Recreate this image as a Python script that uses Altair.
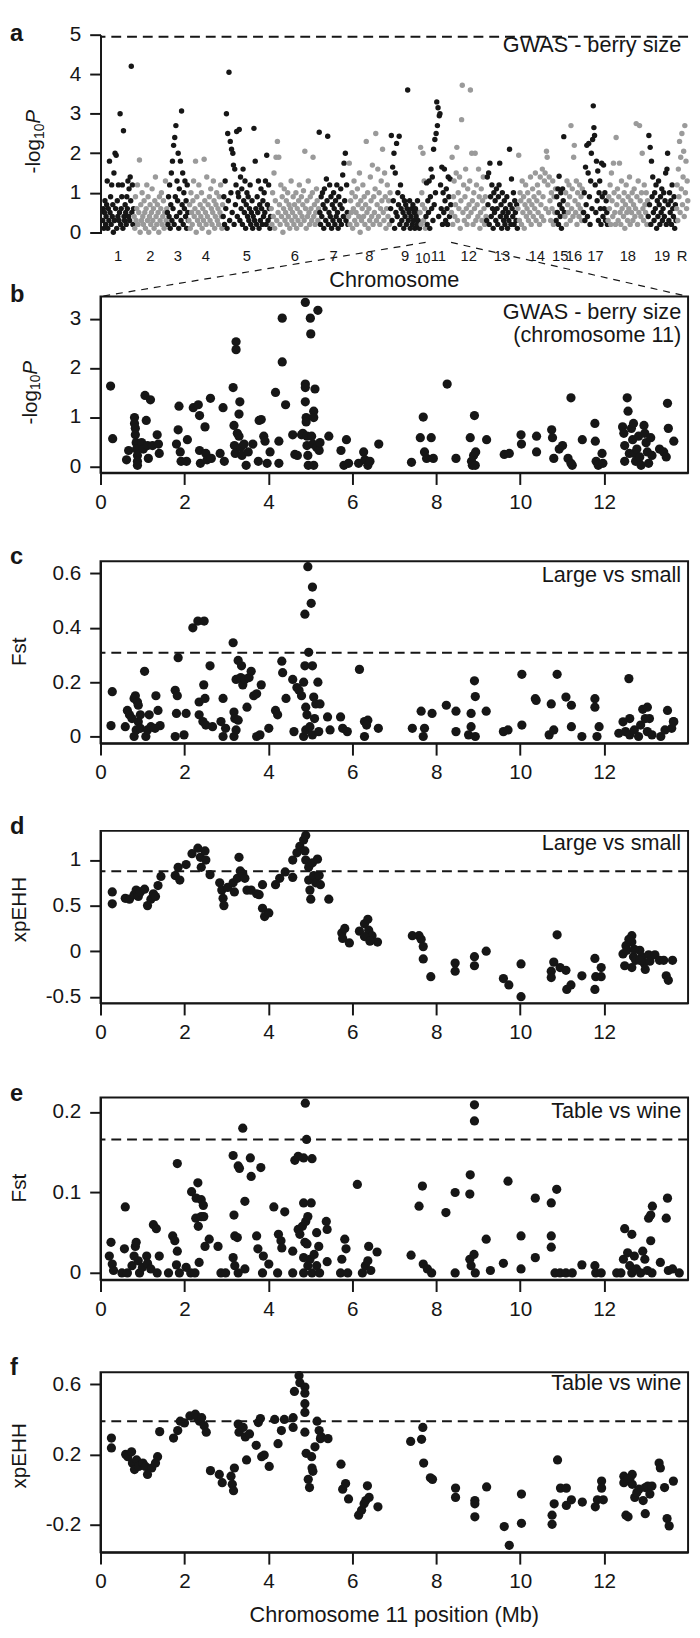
import altair as alt
import pandas as pd

FONT = "Liberation Sans"
INK = "#161616"
GREY = "#9a9a9a"
W = 597

# ---------------- panel a : genome-wide GWAS ----------------
chrom_labels = ["1", "2", "3", "4", "5", "6", "7", "8", "9", "10",
                "11", "12", "13", "14", "15", "16", "17", "18", "19", "R"]
chrom_sizes = [32, 34, 22, 35, 49, 49, 30, 43, 30, 6, 26, 36, 32, 39, 9, 19, 25, 41, 29, 12]

chr1 = [0.3,0.6,0.1,0.5,0.8,0.2,0.4,0.7,1.3,0.1,0.6,0.3,1.8,0.5,0.9,0.2,1.2,0.4,0.7,0.0,1.5,0.3,2.0,0.6,1.95,0.1,0.8,0.4,1.2,0.3,0.5,3.0,0.2,0.6,0.9,1.2,0.1,2.57,0.4,0.3,0.7,0.5,0.2,0.9,0.6,1.3,0.4,1.1,0.3,1.4,0.8,4.2,0.5,1.2,0.2,0.6]
chr2 = [0.4,0.1,0.9,0.3,0.6,1.2,0.2,0.5,1.83,0.0,0.7,0.3,1.0,0.4,0.2,0.8,0.5,0.1,0.6,1.2,0.3,0.9,0.0,0.4,0.7,0.2,0.5,1.1,0.3,0.6,0.1,0.8,1.4,0.4,0.2,0.7,0.5,0.0,0.9,0.3,0.6,1.0,0.2,0.4,0.8,0.1,0.5,1.3,0.3,0.6]
chr3 = [0.5,0.2,0.9,0.4,1.2,0.1,0.7,1.5,0.3,1.8,0.6,2.2,0.2,2.4,0.9,2.7,0.4,1.3,0.8,2.0,0.1,1.1,0.5,1.8,0.3,3.07,0.7,1.5,0.2,1.0,0.6,1.3,0.4,0.8,0.1,1.2,0.5,0.3]
chr4 = [0.3,0.7,0.1,1.0,0.5,0.2,0.8,1.3,0.4,0.6,1.8,0.0,0.9,0.3,0.5,1.2,0.2,0.7,0.4,1.0,0.1,0.6,0.3,1.85,0.8,0.5,0.2,1.4,0.4,0.7,0.0,0.9,0.3,1.1,0.6,0.2,0.5,1.3,0.8,0.1,0.4,0.7,1.0,0.3,0.6,0.2,0.9,0.5,1.2,0.4,0.1,0.7]
chr5 = [0.4,0.9,0.2,1.3,0.6,3.0,0.1,2.5,0.8,4.05,0.3,2.3,1.0,2.1,0.5,2.0,1.7,0.2,1.6,0.7,1.2,2.55,0.4,1.0,0.9,2.6,0.3,1.4,0.6,1.1,0.2,1.6,0.8,0.5,1.3,0.1,0.7,1.0,0.4,0.9,0.3,0.6,1.2,0.2,0.5,0.8,0.1,0.4,2.63,0.3,1.8,0.6,0.2,0.9,0.5,1.3,0.1,0.7,0.3,1.1,0.6,0.2,0.8,0.4,1.0,0.5,1.3,0.2,1.95,0.7,0.3,1.2,0.6,0.1,0.4]
chr6 = [0.6,0.2,1.0,0.4,1.5,0.1,0.8,1.9,0.3,2.3,0.5,1.9,0.7,0.2,1.2,0.4,0.9,0.0,0.6,1.1,0.3,0.5,0.8,0.2,1.0,0.4,0.7,0.1,0.6,1.3,0.3,0.5,0.9,0.2,0.7,0.4,1.0,0.1,0.6,0.3,0.8,1.2,0.5,0.2,0.9,0.4,0.7,1.05,0.3,2.05,0.6,0.1,0.8,0.4,1.3,0.5,0.2,0.9,0.6,0.3,1.0,1.9,0.4,0.7,0.2,0.5,1.1,0.8,0.3,0.6]
chr7 = [2.53,0.5,0.2,0.9,0.4,1.0,0.7,0.1,1.1,0.6,0.3,1.35,0.8,2.43,0.2,0.5,1.2,0.4,0.9,0.1,0.7,0.3,1.0,0.6,0.2,0.8,0.4,1.2,0.5,0.1,0.9,0.3,0.7,1.1,0.2,0.6,1.45,0.4,1.75,0.8,2.0,0.3,1.2,0.5,0.2]
chr8 = [0.4,1.75,0.2,0.8,0.5,1.0,0.1,0.6,1.3,0.3,0.9,0.5,0.2,1.1,0.7,0.4,1.5,0.0,0.8,0.3,0.6,1.2,0.4,0.9,0.2,0.7,2.3,0.5,1.0,0.1,0.6,0.3,1.4,0.8,0.4,1.7,0.2,0.9,0.5,1.1,2.5,0.3,0.7,1.6,0.4,1.0,0.2,0.6,1.3,0.8,2.1,0.5,0.3,1.5,0.9,0.1,0.6,1.2,0.4,0.8,0.2,1.0]
chr9 = [0.6,2.45,0.3,1.65,0.8,2.0,0.1,1.5,0.5,2.25,0.4,1.0,0.7,2.43,0.2,1.2,0.6,0.3,0.9,0.5,0.1,0.8,0.4,0.7,0.2,0.6,3.6,0.3,0.5,0.8,0.1,0.4,0.6,0.2,0.7,0.3,0.5,0.1,0.6,0.4,0.2,0.8,0.3,0.5,0.1]
chr10 = [0.5,2.15,0.2,1.0,0.7,2.0,0.3,1.3,0.6,0.1]
chr11 = [0.4,1.25,0.2,0.8,0.5,1.3,0.1,0.9,1.6,0.6,1.4,0.3,2.1,0.7,2.35,1.0,2.5,3.3,2.7,3.15,0.4,2.95,3.0,1.2,0.6,1.65,0.2,1.0,0.5,1.6,0.8,0.3,1.1,0.6,0.2,1.4,0.9,0.4,1.35,0.7]
chr12 = [0.5,1.9,0.2,0.9,1.3,0.4,0.7,1.5,2.15,0.3,1.0,0.6,1.4,0.1,0.8,2.85,3.72,0.5,1.2,0.3,0.9,1.6,0.6,0.2,1.1,0.4,0.7,1.3,3.6,0.5,2.0,0.8,0.2,1.0,0.6,2.0,0.3,1.2,0.7,0.4,1.6,0.9,0.1,0.5,1.1,0.3,0.8,1.4,0.6,0.2,0.9,0.4]
chr13 = [0.3,1.4,0.7,1.5,0.2,1.75,0.9,0.4,1.2,0.6,0.1,1.0,0.5,0.8,0.3,1.1,0.6,0.2,0.9,1.2,1.75,0.4,0.7,0.1,1.0,0.5,0.3,0.8,0.2,0.6,0.4,0.9,0.1,0.5,0.3,2.1,0.7,0.2,1.35,0.6,0.4,1.0,0.2,0.8,0.5,0.3,0.7,0.1]
chr14 = [0.6,1.95,0.3,1.0,0.8,0.2,1.3,0.5,0.9,0.1,0.7,1.2,0.4,0.6,1.0,0.3,0.8,0.5,1.4,0.2,0.7,1.1,0.4,0.9,0.6,1.5,0.3,0.8,1.2,0.5,1.0,0.2,1.4,0.7,0.4,1.6,0.9,0.3,1.3,1.5,0.6,2.05,1.9,1.2,0.5,1.4,0.8,0.3,1.0,0.6,1.3,0.2,0.9,0.5,1.1]
chr15 = [0.3,0.9,0.5,1.1,0.2,1.42,0.7,0.4,1.0,0.1,0.6,1.1,0.8,2.42,0.5]
chr16 = [0.4,1.0,0.2,1.3,0.7,0.5,1.2,0.9,0.3,2.7,0.6,1.1,0.4,1.9,2.2,0.8,0.5,1.3,0.2,1.0,0.7,0.4,1.2,0.6,0.9,0.3,1.1,0.5]
chr17 = [0.5,1.0,0.3,1.65,0.7,2.2,0.4,1.5,2.25,0.9,0.2,1.3,2.0,0.6,2.35,3.2,2.65,2.45,1.2,0.5,1.8,0.8,1.55,0.3,1.0,1.3,0.6,0.2,1.75,0.9,0.4,1.7,0.6,1.0,0.3,0.8,0.5,0.2]
chr18 = [0.3,0.9,0.6,1.2,0.2,1.5,0.8,0.4,1.75,1.0,0.5,0.2,2.4,0.7,1.1,0.3,0.9,1.75,0.5,0.2,1.3,0.6,0.8,0.4,1.0,0.1,0.7,1.2,0.5,0.3,0.9,0.6,1.4,0.2,0.8,0.5,1.0,0.3,0.7,1.1,0.4,0.6,2.75,0.9,0.2,1.3,0.5,2.7,0.8,0.4,1.0,2.0,0.6,0.3,1.2,0.7,0.5,1.0,0.2,0.8]
chr19 = [0.4,2.45,0.7,2.15,0.2,1.8,0.9,1.4,0.5,0.3,1.0,0.6,1.2,0.1,0.8,0.4,1.3,0.7,0.2,0.9,0.5,1.1,0.3,0.6,1.0,0.4,0.8,1.5,0.2,1.6,2.0,0.7,0.3,1.0,0.5,0.8,0.2,1.2,0.6,0.4,0.9,0.1,0.7,0.3]
chrR = [0.6,1.2,0.3,1.6,0.9,2.3,0.5,1.9,1.1,2.5,0.7,1.4,2.05,0.4,2.7,1.0,1.8,0.6,1.3,0.8]
chrom_values = [chr1, chr2, chr3, chr4, chr5, chr6, chr7, chr8, chr9, chr10,
                chr11, chr12, chr13, chr14, chr15, chr16, chr17, chr18, chr19, chrR]
a_threshold = 4.95

# ---------------- panels b-f : chromosome 11 (Mb, value) ----------------
b_points = [
(0.24,1.63),(0.29,0.56),(0.62,0.13),(0.67,0.32),(0.81,0.99),(0.81,0.87),(0.83,0.77),(0.83,0.64),(0.85,0.48),(0.86,0.35),(0.88,0.22),(0.88,0.10),(0.88,0.02),(0.98,0.48),(1.02,0.35),(1.06,1.44),(1.09,0.93),(1.12,0.42),(1.14,0.16),(1.19,1.35),(1.24,0.42),(1.35,0.64),(1.38,0.45),(1.40,0.26),
(1.81,0.45),(1.85,0.74),(1.87,1.22),(1.90,0.29),(1.92,0.10),(2.05,0.10),(2.07,0.54),(2.21,1.19),(2.33,1.25),(2.36,1.03),(2.36,0.32),(2.38,0.06),(2.49,0.80),(2.51,0.26),(2.54,0.13),(2.62,1.38),(2.64,0.16),(2.85,0.26),(2.92,1.19),(2.95,0.10),
(3.16,1.60),(3.18,0.83),(3.19,0.42),(3.21,0.26),(3.23,2.53),(3.23,2.37),(3.26,0.67),(3.30,0.61),(3.30,1.06),(3.32,1.31),(3.34,0.38),(3.37,0.22),(3.42,0.45),(3.47,0.02),(3.52,0.29),(3.63,0.45),(3.76,0.10),(3.78,0.93),(3.83,0.95),(3.89,0.61),(3.92,0.51),(3.97,0.06),
(4.04,0.29),(4.17,1.50),(4.25,0.51),(4.25,0.06),(4.33,3.01),(4.33,2.12),(4.41,1.25),(4.58,0.64),(4.63,0.24),(4.69,0.22),(4.79,0.64),(4.82,0.67),(4.88,3.33),(4.88,1.67),(4.88,1.60),(4.88,1.31),(4.90,0.99),(4.90,0.90),(4.92,0.61),(4.92,0.42),(4.94,0.22),(4.95,0.02),
(5.00,3.01),(5.01,2.69),(5.03,0.61),(5.06,0.45),(5.08,1.12),(5.08,0.99),(5.08,0.02),(5.11,1.57),(5.15,0.38),(5.18,3.17),(5.21,0.32),(5.23,0.48),(5.44,0.61),(5.73,0.32),(5.80,0.02),(5.86,0.54),(5.91,0.06),
(6.15,0.06),(6.27,0.29),(6.30,0.13),(6.37,0.02),(6.42,0.10),(6.63,0.45),(7.41,0.08),(7.62,0.58),(7.69,1.00),(7.72,0.29),(7.77,0.16),(7.88,0.58),(7.93,0.16),
(8.26,1.67),(8.47,0.16),(8.81,0.58),(8.84,0.10),(8.86,0.02),(8.89,0.22),(8.91,1.03),(8.93,0.02),(8.94,0.29),(9.20,0.54),(9.62,0.24),(9.74,0.26),
(10.02,0.64),(10.03,0.45),(10.39,0.61),(10.39,0.29),(10.75,0.74),(10.77,0.58),(10.80,0.16),(10.93,0.35),(11.01,0.42),(11.14,0.16),(11.21,1.39),(11.21,0.06),(11.24,0.02),(11.48,0.54),(11.78,0.87),(11.79,0.51),(11.81,0.10),(11.86,0.02),(11.95,0.26),(11.97,0.06),
(12.44,0.80),(12.47,0.67),(12.49,0.42),(12.49,0.10),(12.55,1.39),(12.57,1.12),(12.60,0.26),(12.65,0.77),(12.68,0.54),(12.70,0.87),(12.72,0.26),(12.75,0.10),(12.78,0.35),(12.82,0.61),(12.85,0.19),(12.88,0.02),(12.95,0.83),(12.97,0.67),(13.00,0.48),(13.03,0.29),(13.06,0.06),(13.11,0.58),(13.14,0.22),(13.32,0.35),(13.42,0.29),(13.48,0.19),(13.51,1.28),(13.53,0.77),(13.66,0.51)]

c_points = [
(0.28,0.165),(0.25,0.04),(0.64,0.096),(0.69,0.08),(0.80,0.14),(0.83,0.15),(0.88,0.127),(0.90,0.115),(0.95,0.08),(1.05,0.24),(1.16,0.08),(1.32,0.15),(1.37,0.096),(1.42,0.04),(1.78,0.17),(1.83,0.15),(1.85,0.29),(1.81,0.085),(2.04,0.085),(2.20,0.40),(2.32,0.425),(2.47,0.425),
(2.35,0.127),(2.46,0.19),(2.49,0.14),(2.61,0.26),(2.35,0.08),(2.44,0.055),(2.87,0.055),(2.92,0.14),(3.16,0.345),(3.18,0.09),(3.20,0.066),(3.23,0.21),(3.28,0.28),(3.34,0.217),(3.36,0.26),(3.39,0.19),(3.44,0.21),(3.49,0.108),(3.54,0.217),(3.59,0.24),(3.65,0.15),(3.72,0.157),(3.83,0.19),
(4.17,0.096),(4.22,0.08),(4.32,0.277),(4.34,0.235),(4.42,0.14),(4.58,0.21),(4.68,0.18),(4.73,0.17),(4.79,0.15),(4.84,0.20),(4.87,0.45),(4.94,0.625),(5.02,0.49),(5.05,0.55),(4.96,0.31),(4.87,0.26),(4.89,0.108),(4.92,0.08),(5.05,0.26),(5.08,0.145),(5.13,0.12),(5.18,0.20),(5.23,0.12),(5.10,0.066),(5.41,0.072),(5.72,0.072),
(6.17,0.247),(6.29,0.055),(6.37,0.06),(7.64,0.093),(7.90,0.085),(8.24,0.115),(8.47,0.093),(8.83,0.085),(8.91,0.205),(8.93,0.147),(9.19,0.093),(10.04,0.229),(10.36,0.139),(10.38,0.133),(10.74,0.12),(10.88,0.229),(11.09,0.145),(11.22,0.115),(11.78,0.139),(11.78,0.108),(12.59,0.213),(12.61,0.066),(12.92,0.10),(13.03,0.108),(13.08,0.066),(13.51,0.096),(13.65,0.055),
(0.59,0.036),(0.75,0.066),(0.80,0.0),(0.85,0.024),(0.90,0.054),(0.95,0.03),(1.08,0.0),(1.12,0.024),(1.20,0.036),(1.30,0.03),(1.78,0.0),(1.99,0.006),(2.51,0.042),(2.67,0.036),(2.92,0.0),(2.98,0.03),(3.18,0.0),(3.23,0.024),(3.28,0.06),(3.72,0.0),(3.80,0.006),(4.01,0.03),(4.61,0.018),(4.84,0.0),(4.89,0.024),(4.99,0.036),(5.05,0.006),(5.20,0.018),(5.47,0.024),(5.77,0.03),(5.88,0.018),
(6.29,0.0),(6.34,0.042),(6.62,0.03),(7.43,0.03),(7.69,0.0),(7.72,0.03),(8.47,0.018),(8.77,0.006),(8.83,0.036),(8.93,0.0),(9.60,0.018),(9.71,0.024),(10.04,0.042),(10.69,0.006),(10.80,0.024),(11.22,0.036),(11.47,0.0),(11.83,0.0),(11.88,0.036),(12.35,0.012),(12.45,0.054),(12.51,0.018),(12.61,0.006),(12.72,0.024),(12.82,0.0),(12.87,0.042),(12.98,0.066),(13.03,0.018),(13.14,0.006),(13.35,0.0),(13.45,0.024),(13.61,0.03),(13.66,0.054)]

d_points = [
(0.28,0.65),(0.28,0.52),(0.59,0.58),(0.69,0.57),(0.80,0.62),(0.85,0.67),(0.90,0.60),(0.95,0.65),(1.05,0.68),(1.12,0.50),(1.20,0.57),(1.26,0.63),(1.31,0.60),(1.37,0.72),(1.44,0.82),(1.78,0.83),(1.85,0.92),(1.89,0.78),(2.04,0.95),(2.18,1.07),(2.32,1.13),(2.38,1.03),(2.40,0.92),(2.49,1.10),(2.51,1.00),(2.61,0.84),(2.84,0.75),(2.89,0.67),(2.92,0.58),(2.94,0.50),
(3.03,0.70),(3.16,0.75),(3.19,0.65),(3.26,0.80),(3.30,1.03),(3.33,0.88),(3.39,0.85),(3.44,0.80),(3.49,0.67),(3.59,0.67),(3.72,0.63),(3.78,0.62),(3.86,0.73),(3.86,0.47),(3.91,0.38),(4.01,0.42),(4.17,0.73),(4.27,0.80),(4.40,0.87),(4.58,0.81),(4.58,1.00),(4.68,1.08),(4.75,1.15),(4.84,1.22),(4.89,1.27),(4.87,1.10),(4.89,1.00),(4.96,0.92),(4.96,0.78),(4.99,0.67),(5.01,0.57),(5.05,0.97),(5.08,0.83),(5.13,0.75),(5.17,1.01),(5.21,0.83),(5.24,0.73),(5.44,0.57),
(5.75,0.20),(5.82,0.25),(5.93,0.09),(6.17,0.22),(6.29,0.30),(6.37,0.35),(6.39,0.23),(6.47,0.17),(6.60,0.10),(7.43,0.17),(7.59,0.17),(10.88,0.18),(12.66,0.17),(12.66,0.10),
(5.77,0.14),(6.29,0.16),(6.42,0.11),(7.64,0.13),(7.69,0.05),(7.69,-0.085),(7.87,-0.28),(8.45,-0.13),(8.45,-0.22),(8.91,-0.06),(8.91,-0.16),(9.19,0.0),(9.60,-0.30),(9.73,-0.37),(10.02,-0.14),(10.02,-0.50),(10.80,-0.12),(10.74,-0.22),(10.74,-0.29),(10.95,-0.18),(11.09,-0.21),(11.11,-0.42),(11.21,-0.37),(11.47,-0.27),(11.78,-0.08),(11.78,-0.42),(11.80,-0.28),(11.93,-0.18),(11.93,-0.28),
(12.45,-0.03),(12.49,-0.16),(12.52,0.06),(12.54,0.01),(12.59,0.13),(12.70,-0.06),(12.75,-0.10),(12.85,0.01),(12.90,-0.06),(12.95,-0.13),(12.98,-0.20),(13.06,-0.04),(13.09,-0.11),(13.21,-0.04),(13.32,-0.10),(13.42,-0.10),(13.48,-0.27),(13.53,-0.32),(13.63,-0.10),(12.66,-0.18),(12.72,0.02),(12.85,-0.10)]

e_points = [
(4.88,0.211),(8.91,0.209),(8.91,0.189),(3.39,0.18),(4.91,0.166),(1.83,0.136),(3.16,0.146),(3.28,0.133),(3.31,0.13),(3.57,0.143),(3.59,0.12),(3.82,0.131),(4.63,0.14),(4.71,0.145),(4.84,0.143),(5.04,0.142),(8.81,0.122),(9.71,0.114),(2.32,0.112),(6.12,0.11),(7.67,0.108),(10.87,0.104),
(2.17,0.101),(2.28,0.093),(2.40,0.091),(2.45,0.084),(2.27,0.068),(2.33,0.058),(2.40,0.07),(2.46,0.07),(2.49,0.033),(2.59,0.042),(2.80,0.033),(2.35,0.013),(0.59,0.082),(0.25,0.038),(0.21,0.021),(0.28,0.011),(0.31,0.003),(0.57,0.030),(0.51,0.0),(0.64,0.0),(0.75,0.009),(0.80,0.021),(0.83,0.033),(0.85,0.038),(0.90,0.015),(0.93,0.0),(1.00,0.007),(1.10,0.021),(1.12,0.012),(1.20,0.005),(1.26,0.06),(1.33,0.055),(1.35,0.0),(1.40,0.021),(1.62,0.0),(1.72,0.046),(1.77,0.04),(1.83,0.027),(1.81,0.01),(1.88,0.0),(2.04,0.007),(2.15,0.0),(2.25,0.0),(2.87,0.0),(2.98,0.0),
(3.16,0.019),(3.18,0.072),(3.20,0.046),(3.26,0.044),(3.20,0.009),(3.28,0.0),(3.44,0.089),(3.44,0.005),(3.72,0.046),(3.75,0.03),(3.86,0.0),(3.88,0.021),(4.01,0.011),(4.13,0.082),(4.22,0.0),(4.24,0.048),(4.30,0.04),(4.32,0.031),(4.39,0.076),(4.58,0.027),(4.58,0.0),(4.71,0.054),(4.75,0.048),(4.81,0.058),(4.84,0.087),(4.87,0.038),(4.89,0.064),(4.92,0.036),(4.94,0.07),(4.99,0.017),(5.02,0.087),(4.84,0.019),(4.84,0.0),(4.94,0.009),(5.04,0.0),(5.09,0.023),(5.15,0.05),(5.20,0.033),(5.15,0.009),(5.22,0.0),(5.38,0.064),(5.40,0.054),(5.40,0.014),(5.72,0.0),(5.75,0.017),(5.82,0.042),(5.85,0.03),(5.89,0.0),
(6.24,0.0),(6.31,0.009),(6.37,0.015),(6.39,0.033),(6.44,0.003),(6.59,0.026),(7.40,0.022),(7.59,0.083),(7.69,0.011),(7.79,0.005),(7.89,0.0),(8.23,0.075),(8.45,0.0),(8.45,0.10),(8.80,0.098),(8.80,0.017),(8.83,0.009),(8.90,0.023),(8.93,0.0),(9.19,0.042),(9.29,0.003),(9.60,0.012),(10.02,0.046),(10.02,0.005),(10.36,0.093),(10.36,0.019),(10.74,0.087),(10.74,0.046),(10.74,0.032),(10.83,0.0),(10.95,0.0),(11.09,0.0),(11.24,0.0),(11.47,0.01),(11.78,0.009),(11.80,0.0),(11.93,0.0),
(12.30,0.0),(12.40,0.0),(12.49,0.055),(12.46,0.017),(12.56,0.025),(12.61,0.009),(12.66,0.048),(12.66,0.0),(12.72,0.021),(12.77,0.005),(12.87,0.0),(12.92,0.027),(12.97,0.017),(13.03,0.003),(13.06,0.068),(13.11,0.072),(13.11,0.04),(13.15,0.083),(13.14,0.0),(13.34,0.013),(13.48,0.068),(13.51,0.093),(13.53,0.003),(13.63,0.005),(13.79,0.0)]

f_points = [
(4.73,0.65),(4.75,0.61),(4.62,0.56),(4.87,0.585),(4.87,0.55),(4.87,0.49),(4.87,0.44),
(0.26,0.293),(0.26,0.237),(0.60,0.20),(0.65,0.187),(0.74,0.215),(0.76,0.15),(0.81,0.113),(0.86,0.168),(0.91,0.131),(1.01,0.15),(1.07,0.131),(1.12,0.085),(1.22,0.122),(1.31,0.15),(1.36,0.187),(1.41,0.33),(1.74,0.293),(1.84,0.336),(1.90,0.39),(2.00,0.38),(2.13,0.42),(2.26,0.43),(2.31,0.41),(2.36,0.39),(2.41,0.41),(2.47,0.364),(2.52,0.327),(2.62,0.107),(2.83,0.085),(2.90,0.038),
(3.11,0.075),(3.14,0.029),(3.17,-0.008),(3.19,0.122),(3.28,0.373),(3.30,0.327),(3.40,0.354),(3.45,0.30),(3.48,0.168),(3.55,0.317),(3.71,0.252),(3.76,0.382),(3.81,0.405),(3.84,0.187),(3.90,0.196),(4.02,0.131),(4.15,0.40),(4.23,0.261),(4.31,0.336),(4.38,0.40),(4.59,0.41),(4.59,0.354),(4.87,0.327),(4.90,0.206),(4.95,0.057),(4.98,0.01),(5.03,0.187),(5.04,0.122),(5.06,0.103),(5.11,0.243),(5.16,0.39),(5.21,0.336),(5.24,0.29),(5.26,0.30),(5.42,0.29),
(5.73,0.144),(5.77,0.001),(5.84,0.033),(5.91,-0.055),(6.15,-0.148),(6.22,-0.12),(6.28,-0.083),(6.32,-0.064),(6.36,0.02),(6.40,-0.046),(6.61,-0.10),(7.39,0.274),(7.65,0.286),(7.68,0.354),(7.70,0.15),(7.86,0.066),(7.91,0.057),(8.46,0.007),(8.46,-0.046),(8.92,-0.064),(8.92,-0.157),(8.92,-0.083),(9.20,0.014),(9.62,-0.213),(9.74,-0.32),(10.03,-0.027),(10.03,-0.194),
(10.76,-0.148),(10.76,-0.20),(10.81,-0.083),(10.89,0.168),(10.96,0.007),(11.10,0.007),(11.10,-0.092),(11.22,-0.06),(11.48,-0.073),(11.79,-0.10),(11.84,-0.06),(11.94,0.047),(11.94,0.007),(11.98,-0.06),(12.47,0.075),(12.50,0.047),(12.52,-0.148),(12.57,-0.157),(12.62,0.066),(12.67,0.029),(12.67,0.085),(12.73,-0.046),(12.78,-0.018),(12.83,0.001),(12.93,-0.064),(12.98,0.01),(12.98,-0.139),(13.04,0.019),(13.09,-0.027),(13.14,0.019),(13.31,0.15),(13.34,0.122),(13.44,0.01),(13.50,-0.167),(13.55,-0.209),(13.65,0.047),(12.47,0.038),(12.57,0.062)]

x_ticks_mb = [0, 2, 4, 6, 8, 10, 12]

one = pd.DataFrame({"z": [0]})


def txt(text, x, y, size=22, align="right", baseline="middle", weight="normal",
        style="normal", angle=0):
    kw = dict(text=text, fontSize=size, align=align, baseline=baseline,
              fontWeight=weight, fontStyle=style, font=FONT, color=INK)
    if angle:
        kw["angle"] = angle
    return alt.Chart(one).mark_text(**kw).encode(x=alt.value(x), y=alt.value(y))


def ytitle_log(xc, yc):
    w_log = 35.0
    w_sub = 15.6
    y0 = yc + 33
    return [
        txt("-log", xc, y0, 21, align="left", angle=270),
        txt("10", xc + 6, y0 - w_log, 14, align="left", angle=270),
        txt("P", xc, y0 - w_log - w_sub, 21, align="left", style="italic", angle=270),
    ]


# ---------- build panel a ----------
rows, bounds, centers = [], [0], []
start = 0
for k, (size, vals) in enumerate(zip(chrom_sizes, chrom_values)):
    n = len(vals)
    for i, v in enumerate(vals):
        rows.append({"pos": start + (i + 0.5) * size / n, "p": v,
                     "grp": "odd" if k % 2 == 0 else "even"})
    centers.append(start + size / 2)
    start += size
    bounds.append(start)
df_a = pd.DataFrame(rows)
total = start
c11_start = bounds[10]
c11_end = bounds[11]

HA = 202
xa = alt.X("pos:Q", scale=alt.Scale(domain=[-2, total], nice=False, zero=False),
           axis=alt.Axis(values=bounds, labels=False, tickSize=6, title=None,
                         labelFlush=False))
ya = alt.Y("p:Q", scale=alt.Scale(domain=[-0.03, 5], nice=False, zero=False),
           axis=alt.Axis(values=[0, 1, 2, 3, 4, 5], title=None, tickSize=11,
                         labelPadding=9, labelExpr="toString(datum.value)"))
pts_a = alt.Chart(df_a).mark_circle(size=30, opacity=1).encode(
    x=xa, y=ya,
    color=alt.Color("grp:N", scale=alt.Scale(domain=["odd", "even"], range=[INK, GREY]),
                    legend=None))
thr_a = alt.Chart(one).mark_rule(color=INK, strokeWidth=2, strokeDash=[10, 6]).encode(
    y=alt.datum(a_threshold))
df_lab = pd.DataFrame({"c": centers, "lab": chrom_labels})
lab_main = alt.Chart(df_lab[df_lab.lab != "10"]).mark_text(
    fontSize=15, font=FONT, color=INK, baseline="middle").encode(
    x=alt.X("c:Q", axis=None), y=alt.value(HA + 23), text="lab:N")
lab_ten = alt.Chart(df_lab[df_lab.lab == "10"]).mark_text(
    fontSize=14, font=FONT, color=INK, baseline="middle").encode(
    x=alt.X("c:Q", axis=None), y=alt.value(HA + 26), text="lab:N")
conn_l = alt.Chart(one).mark_rule(color=INK, strokeWidth=1.2, strokeDash=[7, 6]).encode(
    x=alt.datum(c11_start), y=alt.value(HA + 9), x2=alt.value(0), y2=alt.value(HA + 64))
conn_r = alt.Chart(one).mark_rule(color=INK, strokeWidth=1.2, strokeDash=[7, 6]).encode(
    x=alt.datum(c11_end), y=alt.value(HA + 9), x2=alt.value(W), y2=alt.value(HA + 64))

pa = alt.layer(
    pts_a, thr_a, lab_main, lab_ten, conn_l, conn_r,
    txt("a", -92, -1, 24, align="left", weight="bold"),
    txt("GWAS - berry size", W - 7, 11, 22),
    txt("Chromosome", W / 2, HA + 47, 22, align="center"),
    *ytitle_log(-67, 108),
).properties(width=W, height=HA, view=alt.ViewBackground(stroke="transparent"))


def panel(letter, letter_y, pts, ydom, yticks, H, thr, notes, tkind, txc, tyc, xtitle=None):
    df = pd.DataFrame(pts, columns=["mb", "v"])
    x = alt.X("mb:Q", scale=alt.Scale(domain=[0, 14], nice=False, zero=False),
              axis=alt.Axis(values=x_ticks_mb, tickSize=12, labelPadding=7,
                            labelFlush=False, title=None))
    y = alt.Y("v:Q", scale=alt.Scale(domain=ydom, nice=False, zero=False),
              axis=alt.Axis(values=yticks, title=None, tickSize=11, labelPadding=9,
                            labelExpr="toString(datum.value)"))
    layers = [alt.Chart(df).mark_circle(size=88, color=INK, opacity=1).encode(x=x, y=y)]
    if thr is not None:
        layers.append(alt.Chart(one).mark_rule(color=INK, strokeWidth=2,
                                               strokeDash=[10, 6]).encode(y=alt.datum(thr)))
    layers.append(txt(letter, -92, letter_y, 24, align="left", weight="bold"))
    for t, yy in notes:
        layers.append(txt(t, W - 7, yy, 22))
    if tkind == "log":
        layers += ytitle_log(txc, tyc)
    else:
        layers.append(txt(tkind, txc, tyc, 21, align="center", angle=270))
    if xtitle:
        layers.append(txt(xtitle, W / 2, H + 64, 22, align="center"))
    return alt.layer(*layers).properties(width=W, height=H)


pb = panel("b", -1, b_points, [-0.13, 3.45], [0, 1, 2, 3], 179, None,
           [("GWAS - berry size", 16), ("(chromosome 11)", 39)], "log", -71, 97)
pc = panel("c", -4, c_points, [-0.025, 0.645], [0, 0.2, 0.4, 0.6], 185, 0.308,
           [("Large vs small", 14)], "Fst", -82, 92)
pdd = panel("d", -4, d_points, [-0.57, 1.32], [-0.5, 0, 0.5, 1], 175, 0.876,
            [("Large vs small", 12)], "xpEHH", -82, 80)
pe = panel("e", -4, e_points, [-0.0084, 0.218], [0, 0.1, 0.2], 185, 0.166,
           [("Table vs wine", 14)], "Fst", -82, 92)
pf = panel("f", -4, f_points, [-0.36, 0.67], [-0.2, 0.2, 0.6], 183, 0.39,
           [("Table vs wine", 11)], "xpEHH", -82, 85,
           xtitle="Chromosome 11 position (Mb)")


def spacer(h):
    return alt.Chart(one).mark_point(opacity=0, size=1).encode(
        x=alt.value(10), y=alt.value(1)).properties(
        width=W, height=h, view=alt.ViewBackground(stroke="transparent"))


chart = alt.vconcat(
    pa, spacer(2), pb, spacer(28), pc, spacer(27), pdd, spacer(34), pe, spacer(32), pf,
    spacing=31, bounds="flush",
).properties(padding=0).configure(font=FONT).configure_axis(
    domainColor=INK, domainWidth=2, tickColor=INK, tickWidth=2,
    labelColor=INK, labelFont=FONT, labelFontSize=21,
    titleFont=FONT, titleFontSize=22, titleFontWeight="normal", titleColor=INK,
    grid=False,
).configure_view(stroke=INK, strokeWidth=2)

chart.save("out.html", embed_options={"renderer": "svg", "actions": False})
